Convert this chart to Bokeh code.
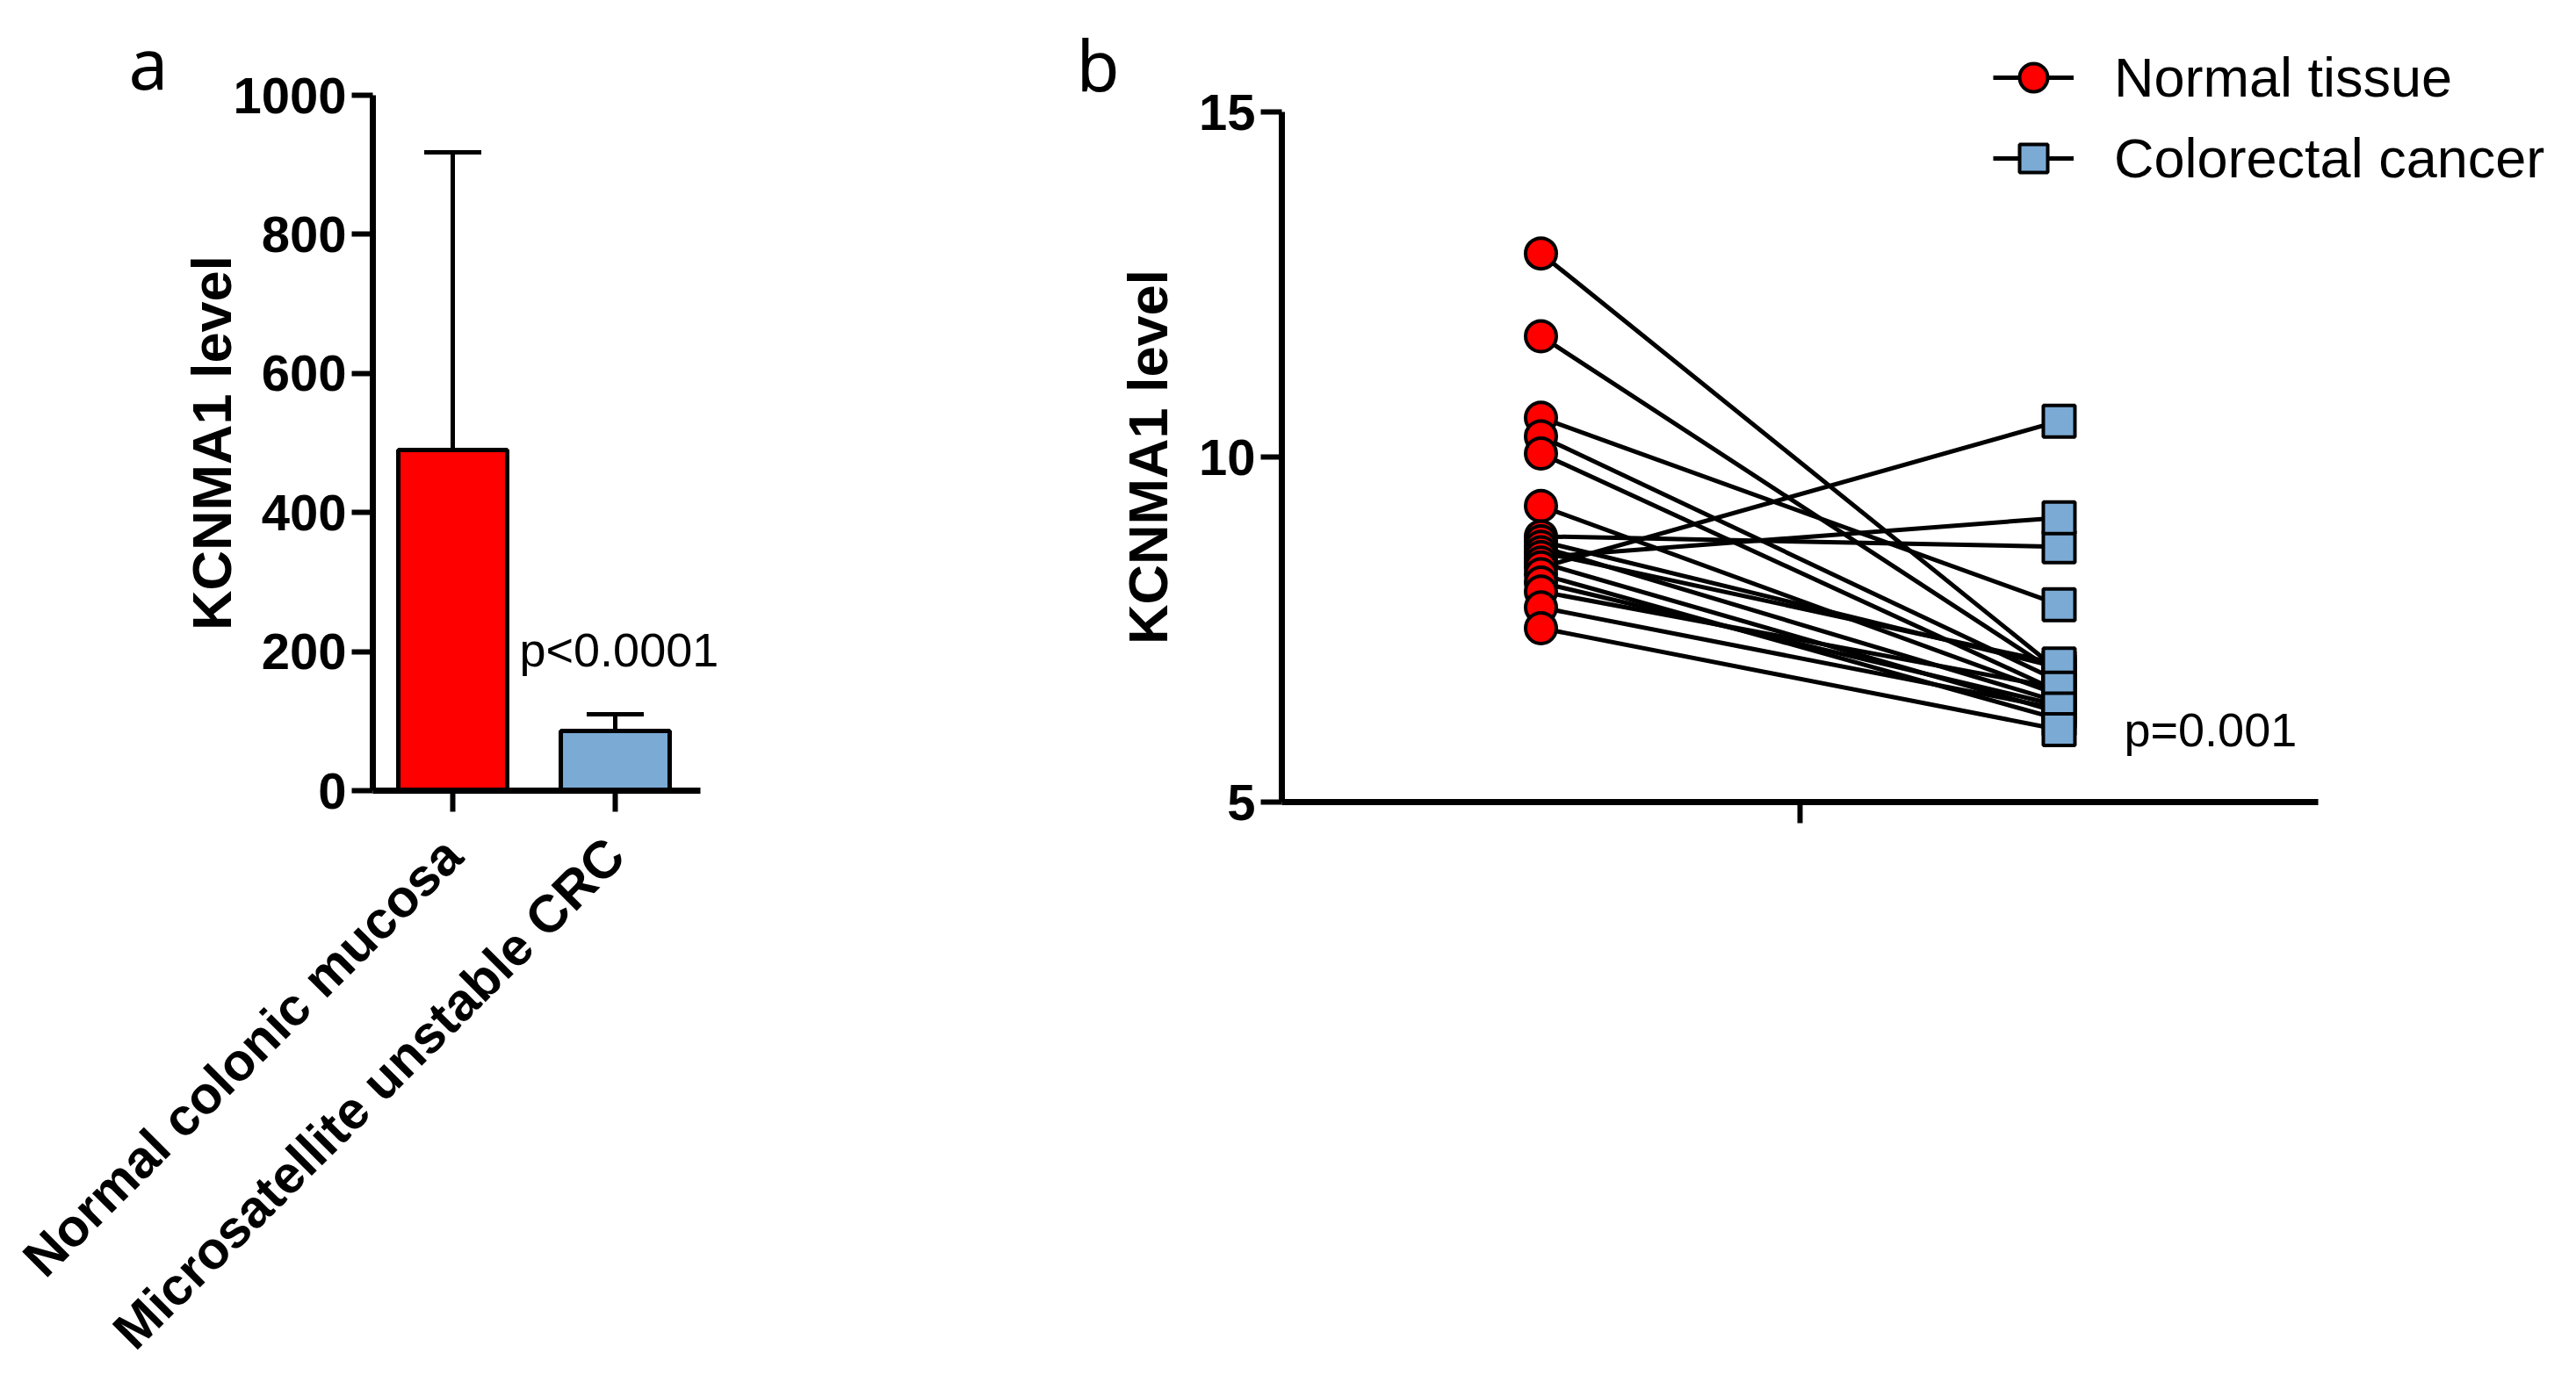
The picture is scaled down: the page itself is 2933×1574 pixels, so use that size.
import math
from bokeh.plotting import figure
from bokeh.layouts import row
from bokeh.models import (Range1d, FixedTicker, Whisker, TeeHead, ColumnDataSource,
                          Label, Legend, LegendItem)
from bokeh.embed import file_html
from bokeh.resources import INLINE

# ---------------- data: panel a ----------------
categories = ["Normal colonic mucosa", "Microsatellite unstable CRC"]
bar_means = [490, 86]
bar_sd = [428, 24]
bar_colors = ["#FF0000", "#7BAAD5"]
a_ticks = [0, 200, 400, 600, 800, 1000]
a_pvalue = "p<0.0001"

# ---------------- data: panel b ----------------
normal_tissue = [12.95, 11.75, 10.57, 10.30, 10.05, 9.29, 8.85, 8.78, 8.70, 8.62,
                 8.55, 8.47, 8.40, 8.30, 8.18, 8.05, 7.82, 7.52]
colorectal_cancer = [6.90, 6.85, 7.86, 6.75, 6.60, 6.55, 8.70, 6.95, 6.45, 7.00,
                     9.12, 6.30, 10.52, 6.20, 6.40, 6.65, 6.35, 6.05]
b_groups = ["Normal tissue", "Colorectal cancer"]
b_colors = ["#FF0000", "#7BAAD5"]
b_ticks = [5, 10, 15]
b_pvalue = "p=0.001"

FONT = "Liberation Sans"
PAGE_TOP, PAGE_BOTTOM = 0, 1566


def lin(p0, v0, p1, v1):
    """return a function mapping page pixel -> data value"""
    k = (v1 - v0) / (p1 - p0)
    return lambda p: v0 + (p - p0) * k


def style_axis(ax, size="58px"):
    ax.axis_line_width = 7
    ax.axis_line_color = "black"
    ax.major_tick_line_width = 6
    ax.major_tick_line_color = "black"
    ax.major_tick_out = 24
    ax.major_tick_in = 0
    ax.minor_tick_line_color = None
    ax.major_label_text_font = FONT
    ax.major_label_text_font_style = "bold"
    ax.major_label_text_font_size = size
    ax.major_label_text_color = "black"
    ax.major_label_standoff = 6
    ax.axis_label_text_font = FONT
    ax.axis_label_text_font_style = "bold"
    ax.axis_label_text_font_size = "63px"
    ax.axis_label_text_color = "black"


def base_fig(left, right, fx, fy):
    p = figure(width=right - left, height=PAGE_BOTTOM - PAGE_TOP,
               min_border=0,
               x_range=Range1d(fx(left), fx(right)),
               y_range=Range1d(fy(PAGE_BOTTOM), fy(PAGE_TOP)),
               output_backend="svg", toolbar_location=None)
    p.outline_line_color = None
    p.grid.visible = False
    p.background_fill_color = "white"
    p.border_fill_color = "white"
    return p


# ---------------- panel a ----------------
ax_map = lin(515, 1, 700, 2)        # page x -> data x
ay_map = lin(900, 0, 108, 1000)     # page y -> data y
pa = base_fig(0, 1150, ax_map, ay_map)

xpos = [i + 1 for i in range(len(categories))]
src_a = ColumnDataSource(dict(
    x=xpos, top=bar_means, color=bar_colors,
    upper=[m + s for m, s in zip(bar_means, bar_sd)],
))
pa.vbar(x="x", top="top", width=0.67, bottom=0, source=src_a,
        fill_color="color", line_color="black", line_width=5)
pa.add_layout(Whisker(source=src_a, base="x", upper="upper", lower="top",
                      line_width=5, line_color="black",
                      upper_head=TeeHead(size=65, line_width=5, line_color="black"),
                      lower_head=None))

a_x0, a_x1 = ax_map(424), ax_map(797)
ya = pa.yaxis[0]
style_axis(ya)
ya.ticker = FixedTicker(ticks=a_ticks)
ya.fixed_location = a_x0
ya.bounds = (a_ticks[0], a_ticks[-1])
ya.axis_label = "KCNMA1 level"
ya.axis_label_standoff = -14

xa = pa.xaxis[0]
style_axis(xa, size="60px")
xa.ticker = FixedTicker(ticks=xpos)
xa.fixed_location = a_ticks[0]
xa.bounds = (a_x0, a_x1)
xa.major_label_overrides = {x: c for x, c in zip(xpos, categories)}
xa.major_label_orientation = math.pi / 4
xa.major_label_standoff = 40

pa.add_layout(Label(x=ax_map(591), y=ay_map(739), text=a_pvalue, text_baseline="middle",
                    text_font=FONT, text_font_size="54px", text_color="black"))
pa.add_layout(Label(x=ax_map(146), y=ay_map(70), text="a", text_baseline="alphabetic",
                    text_font="Noto Sans", text_font_size="80px", text_color="black"))

# ---------------- panel b ----------------
bx_map = lin(1459, 0, 2639, 2)
by_map = lin(913, 5, 127, 15)
pb = base_fig(1150, 2925, bx_map, by_map)

gpos = [0.5, 1.5]
n = len(normal_tissue)
src_b = ColumnDataSource(dict(
    x0=[gpos[0]] * n, y0=normal_tissue,
    x1=[gpos[1]] * n, y1=colorectal_cancer,
))
seg = pb.segment(x0="x0", y0="y0", x1="x1", y1="y1", source=src_b,
                 line_color="black", line_width=5)
circ = pb.scatter(x="x0", y="y0", source=src_b, marker="circle", size=35,
                  fill_color=b_colors[0], line_color="black", line_width=4)
sq = pb.scatter(x="x1", y="y1", source=src_b, marker="square", size=36,
                fill_color=b_colors[1], line_color="black", line_width=4)

yb = pb.yaxis[0]
style_axis(yb)
yb.ticker = FixedTicker(ticks=b_ticks)
yb.fixed_location = 0
yb.bounds = (b_ticks[0], b_ticks[-1])
yb.axis_label = "KCNMA1 level"
yb.axis_label_standoff = 20

xb = pb.xaxis[0]
style_axis(xb)
xb.ticker = FixedTicker(ticks=[1])
xb.fixed_location = b_ticks[0]
xb.bounds = (0, 2)
xb.major_label_overrides = {1: ""}

legend = Legend(items=[LegendItem(label=b_groups[0], renderers=[seg, circ]),
                       LegendItem(label=b_groups[1], renderers=[seg, sq])],
                location=(2269 - 1150, PAGE_BOTTOM - 220), glyph_width=92, glyph_height=80,
                label_height=60, spacing=12, label_standoff=46,
                padding=0, margin=0, border_line_color=None,
                background_fill_alpha=0,
                label_text_font=FONT, label_text_font_size="63px",
                label_text_color="black", label_text_baseline="middle")
pb.add_layout(legend)

pb.add_layout(Label(x=bx_map(2418), y=by_map(830), text=b_pvalue, text_baseline="middle",
                    text_font=FONT, text_font_size="54px", text_color="black"))
pb.add_layout(Label(x=bx_map(1225), y=by_map(72), text="b", text_baseline="alphabetic",
                    text_font="Noto Sans", text_font_size="80px", text_color="black"))

layout = row(pa, pb)
open("out.html", "w").write(file_html(layout, INLINE))
